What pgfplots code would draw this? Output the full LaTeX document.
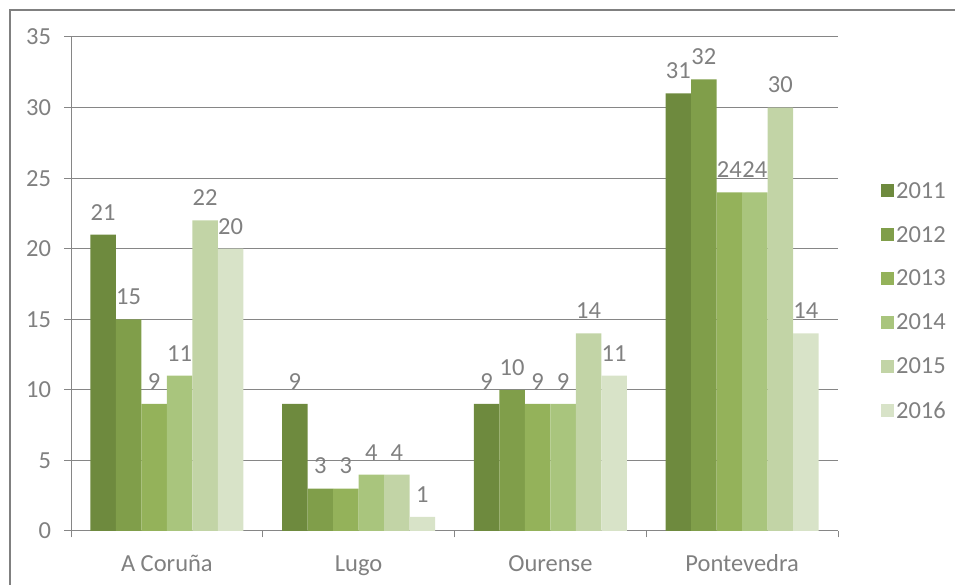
\documentclass[border=0pt]{standalone}
\usepackage{pgfplots}
\pgfplotsset{compat=1.18}
\usepackage{fontspec}
\setmainfont{Carlito}
\definecolor{txt}{RGB}{128,128,128}
\definecolor{ax}{RGB}{134,134,134}
\definecolor{frm}{RGB}{128,128,128}
\definecolor{c1}{RGB}{110,138,62}
\definecolor{c2}{RGB}{128,158,74}
\definecolor{c3}{RGB}{148,178,90}
\definecolor{c4}{RGB}{169,197,125}
\definecolor{c5}{RGB}{194,212,166}
\definecolor{c6}{RGB}{216,227,200}
\begin{document}
\begin{tikzpicture}
\useasboundingbox (0pt,0pt) rectangle (955pt,585pt);
\draw[frm, line width=2pt] (10pt,-30pt) rectangle (990pt,575pt);
\begin{axis}[
  at={(71pt,54pt)}, anchor=south west,
  scale only axis, width=767pt, height=494pt,
  ybar=0pt, bar width=25.5pt,
  ymin=0, ymax=35, ytick={0,5,...,35},
  xmin=-0.5, xmax=3.5,
  xtick={-0.5,0.5,1.5,2.5,3.5},
  xticklabels={A Coruña,Lugo,Ourense,Pontevedra},
  x tick label as interval,
  axis x line*=bottom, axis y line*=left,
  tick align=outside, major tick length=6.5pt,
  tick style={ax, line width=1pt},
  axis line style={ax, line width=1pt},
  ymajorgrids, grid style={ax, line width=1pt},
  font=\fontsize{24.5}{28}\selectfont,
  /pgf/number format/assume math mode=true,
  tick label style={txt},
  yticklabel style={xshift=-10pt},
  xticklabel style={yshift=-14pt, text height=16pt, text depth=6pt},
  nodes near coords,
  every node near coord/.append style={txt, yshift=11pt, font=\fontsize{24.5}{28}\selectfont},
  legend style={at={(1.052,0.4656)}, anchor=west, draw=none, fill=none,
    font=\fontsize{24.5}{28}\selectfont, text=txt, row sep=22.5pt,
    /tikz/every even column/.append style={column sep=0pt}},
  legend cell align=left,
  legend image code/.code={\fill[#1] (-1pt,-6.5pt) rectangle (12pt,6.5pt);},
]
\addplot[fill=c1, draw=none] coordinates {(0,21) (1,9) (2,9) (3,31)};
\addplot[fill=c2, draw=none] coordinates {(0,15) (1,3) (2,10) (3,32)};
\addplot[fill=c3, draw=none] coordinates {(0,9) (1,3) (2,9) (3,24)};
\addplot[fill=c4, draw=none] coordinates {(0,11) (1,4) (2,9) (3,24)};
\addplot[fill=c5, draw=none] coordinates {(0,22) (1,4) (2,14) (3,30)};
\addplot[fill=c6, draw=none] coordinates {(0,20) (1,1) (2,11) (3,14)};
\legend{2011,2012,2013,2014,2015,2016}
\end{axis}
\end{tikzpicture}
\end{document}
